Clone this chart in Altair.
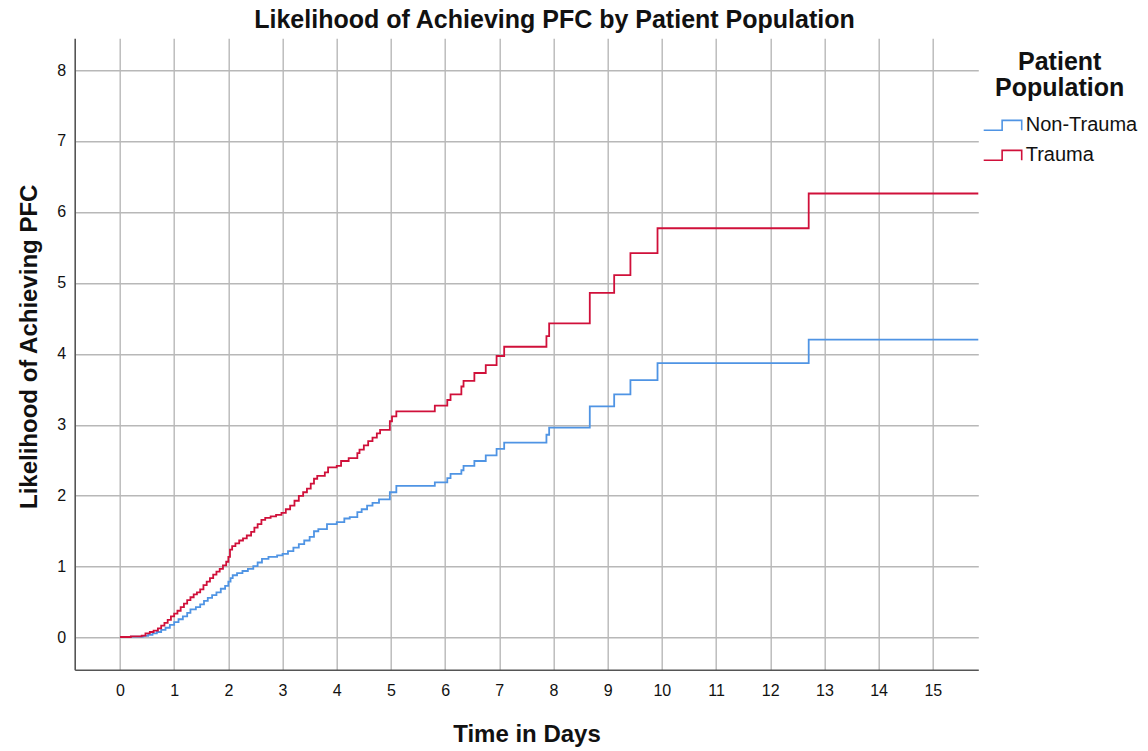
import altair as alt
import pandas as pd

# Trauma (step-after events: day, cumulative likelihood)
trauma_days = [0, 0.2, 0.4, 0.47, 0.55, 0.62, 0.7, 0.76, 0.82, 0.88, 0.94, 1.0, 1.06, 1.12, 1.18,
               1.24, 1.30, 1.36, 1.42, 1.48, 1.54, 1.60, 1.66, 1.72, 1.78, 1.84, 1.90, 1.96, 2.0,
               2.03, 2.07, 2.13, 2.2, 2.27, 2.34, 2.42, 2.48, 2.54, 2.61, 2.68, 2.78, 2.88, 2.98,
               3.06, 3.14, 3.22, 3.3, 3.38, 3.45, 3.52, 3.58, 3.64, 3.78, 3.84, 4.0, 4.08, 4.22,
               4.38, 4.42, 4.5, 4.58, 4.66, 4.74, 4.80, 4.98, 5.02, 5.1, 5.81, 6.04, 6.10, 6.30,
               6.34, 6.54, 6.75, 6.95, 7.09, 7.87, 7.92, 8.67, 9.12, 9.42, 9.92, 12.71, 16.5]
trauma_vals = [0.01, 0.02, 0.03, 0.06, 0.08, 0.10, 0.13, 0.17, 0.21, 0.25, 0.30, 0.34, 0.38, 0.43, 0.48,
               0.53, 0.57, 0.61, 0.64, 0.68, 0.74, 0.79, 0.84, 0.89, 0.93, 0.97, 1.02, 1.07, 1.14,
               1.24, 1.29, 1.33, 1.37, 1.40, 1.44, 1.49, 1.55, 1.60, 1.66, 1.69, 1.71, 1.73, 1.76,
               1.81, 1.86, 1.93, 2.00, 2.05, 2.10, 2.17, 2.24, 2.28, 2.33, 2.40, 2.42, 2.49, 2.53,
               2.60, 2.65, 2.71, 2.77, 2.82, 2.88, 2.93, 3.05, 3.12, 3.19, 3.27, 3.35, 3.43, 3.54,
               3.62, 3.73, 3.84, 3.97, 4.10, 4.25, 4.43, 4.86, 5.11, 5.42, 5.77, 6.26, 6.26]

# Non-Trauma
non_days = [0, 0.2, 0.43, 0.52, 0.6, 0.68, 0.76, 0.84, 0.92, 1.0, 1.08, 1.16, 1.24, 1.3, 1.4, 1.48,
            1.55, 1.62, 1.70, 1.78, 1.86, 1.94, 2.0, 2.04, 2.08, 2.16, 2.26, 2.36, 2.46, 2.54, 2.62,
            2.74, 2.90, 3.0, 3.1, 3.2, 3.3, 3.4, 3.5, 3.58, 3.66, 3.82, 4.0, 4.14, 4.24, 4.38, 4.46,
            4.56, 4.66, 4.78, 4.98, 5.1, 5.81, 6.04, 6.10, 6.30, 6.34, 6.54, 6.75, 6.95, 7.09, 7.87,
            7.92, 8.67, 9.12, 9.42, 9.92, 12.71, 16.5]
non_vals = [0.01, 0.015, 0.025, 0.04, 0.06, 0.08, 0.11, 0.14, 0.18, 0.22, 0.26, 0.30, 0.35, 0.40, 0.43, 0.47,
            0.52, 0.56, 0.60, 0.64, 0.69, 0.73, 0.79, 0.84, 0.88, 0.91, 0.94, 0.97, 1.01, 1.06, 1.11,
            1.14, 1.16, 1.18, 1.22, 1.27, 1.32, 1.37, 1.42, 1.50, 1.53, 1.60, 1.63, 1.68, 1.70, 1.77, 1.81,
            1.86, 1.90, 1.95, 2.05, 2.14, 2.19, 2.25, 2.31, 2.36, 2.42, 2.49, 2.57, 2.66, 2.75, 2.86,
            2.96, 3.26, 3.43, 3.63, 3.87, 4.20, 4.20]

groups = ["Non-Trauma", "Trauma"]
colors = ["#4F94E4", "#D0103A"]
x_ticks = list(range(0, 16))
y_ticks = list(range(0, 9))

df = pd.concat([
    pd.DataFrame({"day": non_days, "val": non_vals, "group": "Non-Trauma"}),
    pd.DataFrame({"day": trauma_days, "val": trauma_vals, "group": "Trauma"}),
])

FONT = "Liberation Sans"

chart = alt.Chart(df).mark_line(interpolate="step-after", clip=True, strokeWidth=1.8).encode(
    x=alt.X("day:Q", scale=alt.Scale(domain=[-0.836, 15.84], nice=False, zero=False),
            axis=alt.Axis(values=x_ticks, title="Time in Days", ticks=False, labelPadding=13,
                          labelFontSize=16, titleFontSize=24, titleFontWeight="bold",
                          titleBaseline="middle", titleY=65, labelFlush=False)),
    y=alt.Y("val:Q", scale=alt.Scale(domain=[-0.451, 8.447], nice=False, zero=False),
            axis=alt.Axis(values=y_ticks, title="Likelihood of Achieving PFC", ticks=False, labelPadding=9,
                          labelFontSize=16, titleFontSize=24, titleFontWeight="bold",
                          titleAngle=-90, titleBaseline="middle", titleAlign="center",
                          titleX=-45, titleY=308, labelFlush=False)),
    color=alt.Color("group:N", scale=alt.Scale(domain=groups, range=colors),
                    legend=alt.Legend(title=["Patient", "Population"], orient="none",
                                      legendX=908, legendY=12,
                                      titleFontSize=25, titleFontWeight="bold",
                                      titleLineHeight=26, titleAnchor="middle", titleAlign="center",
                                      titlePadding=4,
                                      labelFontSize=20, labelOffset=3,
                                      symbolType="M-1,0.26 H-0.03 V-0.26 H1 V0.26",
                                      symbolSize=1444, symbolStrokeWidth=1.6,
                                      symbolFillColor="transparent",
                                      rowPadding=-5)),
).properties(
    width=903.6, height=631.4,
    title=alt.TitleParams("Likelihood of Achieving PFC by Patient Population", fontSize=25,
                          fontWeight="bold", anchor="middle", dx=28, dy=24, offset=9, baseline="alphabetic"),
    padding={"left": 74.7, "top": 38.3, "right": 169.7, "bottom": 81.3},
    autosize=alt.AutoSizeParams(type="none"),
).configure(font=FONT).configure_axis(
    gridColor="#b8b8b8", gridWidth=1.4, domainColor="#555555", domainWidth=1.6,
    labelColor="#111111", titleColor="#111111", labelFont=FONT, titleFont=FONT,
).configure_view(stroke=None).configure_legend(
    labelFont=FONT, titleFont=FONT, labelColor="#111111", titleColor="#111111"
).configure_title(font=FONT, color="#111111")

chart.save("out.html", embed_options={"renderer": "svg", "actions": False})
